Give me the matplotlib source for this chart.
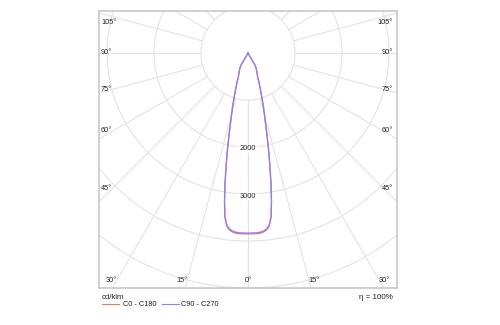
"""Polar luminous intensity diagram (cd/klm)."""

import matplotlib
matplotlib.use("Agg")
import matplotlib.pyplot as plt
import numpy as np
from matplotlib.lines import Line2D
from matplotlib.patches import Circle

# gamma angles (deg from nadir) and intensities in cd/klm
GAMMA = [0, 1, 2, 3, 4, 5, 6, 7, 8, 9, 10, 11, 12, 13, 14, 16, 18, 20, 22.5, 25, 27.5, 30,
         32.5, 35, 45, 60, 90, 120, 150, 180]
I_C0_C180 = [3850, 3850, 3850, 3848, 3842, 3822, 3788, 3712, 3532, 3200, 2815, 2434, 2100, 1800,
             1544, 1192, 908, 706, 525, 453, 379, 305, 0, 0, 0, 0, 0, 0, 0, 0]
I_C90_C270 = [3830, 3830, 3830, 3828, 3820, 3800, 3765, 3690, 3516, 3196, 2813, 2434, 2100, 1800,
              1544, 1192, 908, 706, 525, 453, 379, 305, 0, 0, 0, 0, 0, 0, 0, 0]

RING_VALUES = [1000, 2000, 3000, 4000, 5000, 6000, 7000]
RING_LABELS = [2000, 3000]
SPOKE_STEP = 15
SIDE_LABEL_ANGLES = [45, 60, 75, 90, 105]
BOTTOM_LABEL_ANGLES = [0, 15, 30]
ETA = "η = 100%"
UNIT = "cd/klm"

GRID = "#E3E3E3"
FRAME = "#C4C4C4"
RED = "#EE7272"
BLUE = "#8C7EF2"
TXT = "#222222"
FONT = ["Liberation Sans", "DejaVu Sans"]
FS = 5.3

W, H = 500, 325
PX = 1000 / 47.0  # cd/klm per pixel


def fx(px):
    return px / W


def fy(py):
    return 1 - py / H


def curve(ax, gamma, values, color):
    g = np.radians(gamma)
    v = np.asarray(values, dtype=float)
    x = np.concatenate([-(v * np.sin(g))[::-1], (v * np.sin(g))[1:]])
    y = np.concatenate([-(v * np.cos(g))[::-1], -(v * np.cos(g))[1:]])
    ax.plot(x, y, color=color, linewidth=0.9, solid_joinstyle="round")


def main():
    plt.rcParams["font.family"] = FONT
    fig = plt.figure(figsize=(W / 100, H / 100), dpi=100)
    ax = fig.add_axes([fx(99), fy(288), fx(298), 277 / H])
    ax.set_xlim(-149 * PX, 149 * PX)
    ax.set_ylim(-235 * PX, 42 * PX)
    ax.set_xticks([])
    ax.set_yticks([])
    for sp in ax.spines.values():
        sp.set_color(FRAME)
        sp.set_linewidth(1.1)

    for r in RING_VALUES:
        ax.add_patch(Circle((0, 0), r, fill=False, edgecolor=GRID, linewidth=0.8, zorder=1))
    for a in range(0, 181, SPOKE_STEP):
        t = np.radians(a)
        for sgn in (-1, 1):
            ax.plot([sgn * 1000 * np.sin(t), sgn * 12000 * np.sin(t)],
                    [-1000 * np.cos(t), -12000 * np.cos(t)],
                    color=GRID, linewidth=0.8, zorder=1)

    curve(ax, GAMMA, I_C0_C180, RED)
    curve(ax, GAMMA, I_C90_C270, BLUE)

    for v in RING_LABELS:
        ax.text(0, -v - 2 * PX, f"{v}", ha="center", va="center", fontsize=FS, color=TXT,
                bbox=dict(facecolor="white", edgecolor="none", pad=0.3), zorder=3)

    for a in SIDE_LABEL_ANGLES:
        t = np.radians(a)
        y = -135 * PX * np.cos(t) / np.sin(t)
        y = min(y, 30 * PX)
        ax.text(-147 * PX, y, f"{a}°", ha="left", va="center", fontsize=FS, color=TXT)
        ax.text(145 * PX, y, f"{a}°", ha="right", va="center", fontsize=FS, color=TXT)
    for a in BOTTOM_LABEL_ANGLES:
        x = 227 * PX * np.tan(np.radians(a))
        y = -227 * PX
        if a == 0:
            ax.text(0, y, f"{a}°", ha="center", va="center", fontsize=FS, color=TXT)
        else:
            ax.text(-x, y, f"{a}°", ha="right", va="center", fontsize=FS, color=TXT)
            ax.text(x, y, f"{a}°", ha="left", va="center", fontsize=FS, color=TXT)

    fig.text(fx(102), fy(297.5), UNIT, ha="left", va="center", fontsize=FS + 0.3, color=TXT)
    fig.text(fx(393), fy(297.5), ETA, ha="right", va="center", fontsize=FS + 0.5, color=TXT)
    fig.add_artist(Line2D([fx(102), fx(119)], [fy(303.5)] * 2, color=RED, linewidth=0.8))
    fig.text(fx(123), fy(304), "C0 - C180", ha="left", va="center", fontsize=FS, color=TXT)
    fig.add_artist(Line2D([fx(162), fx(179)], [fy(303.5)] * 2, color=BLUE, linewidth=0.8))
    fig.text(fx(181), fy(304), "C90 - C270", ha="left", va="center", fontsize=FS, color=TXT)

    fig.savefig("out.png", dpi=100, facecolor="white")


if __name__ == "__main__":
    main()
